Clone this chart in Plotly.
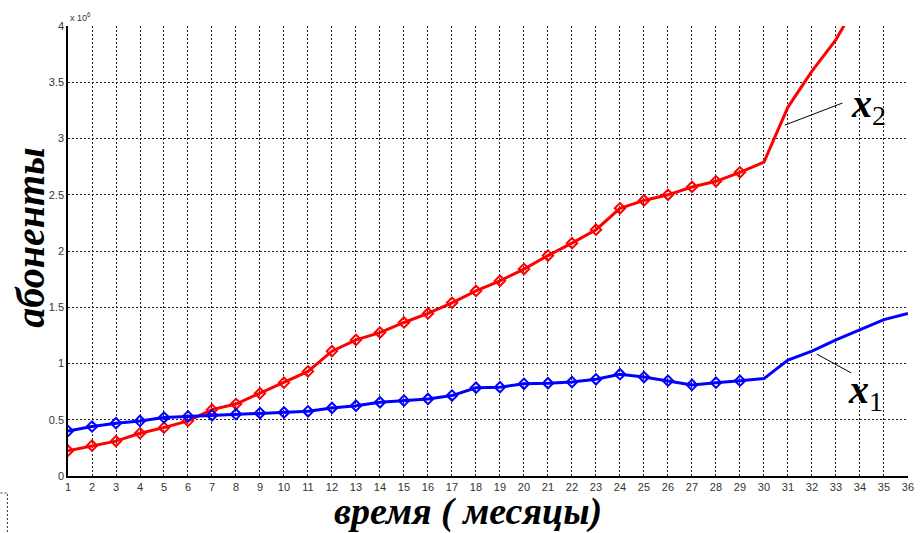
import plotly.graph_objects as go

# Months of observation
months = list(range(1, 37))

# Subscribers, in millions (axis carries the x 10^6 multiplier)
x1_subs = [0.40, 0.44, 0.47, 0.49, 0.52, 0.53, 0.54, 0.55, 0.56, 0.565,
           0.575, 0.605, 0.625, 0.655, 0.67, 0.685, 0.715, 0.785, 0.79, 0.82,
           0.825, 0.835, 0.86, 0.905, 0.88, 0.847, 0.81, 0.83, 0.847, 0.866,
           1.03, 1.11, 1.21, 1.30, 1.39, 1.445]
x2_subs = [0.225, 0.27, 0.31, 0.38, 0.43, 0.49, 0.59, 0.64, 0.735, 0.83,
           0.93, 1.11, 1.21, 1.275, 1.365, 1.445, 1.54, 1.645, 1.735, 1.84,
           1.96, 2.07, 2.19, 2.38, 2.45, 2.50, 2.57, 2.62, 2.70, 2.79,
           3.28, 3.60, 3.88, 4.25]

# Months with observed (marked) points; later months are the projection
n_marked = 29

y_ticks = [0, 0.5, 1, 1.5, 2, 2.5, 3, 3.5, 4]
y_tick_text = ["0", "0.5", "1", "1.5", "2", "2.5", "3", "3.5", "4"]

RED = "#ff0000"
BLUE = "#0000ff"

fig = go.Figure()


def add_series(xs, ys, color):
    fig.add_trace(go.Scatter(
        x=xs[:n_marked], y=ys[:n_marked], mode="lines+markers",
        line=dict(color=color, width=3),
        marker=dict(symbol="diamond-open", size=8, color=color,
                    line=dict(color=color, width=2)),
        showlegend=False, hoverinfo="x+y"))
    fig.add_trace(go.Scatter(
        x=xs[n_marked - 1:len(ys)], y=ys[n_marked - 1:], mode="lines",
        line=dict(color=color, width=3),
        showlegend=False, hoverinfo="x+y"))


add_series(months, x2_subs, RED)
add_series(months, x1_subs, BLUE)

grid_style = dict(showgrid=True, gridcolor="#222222", gridwidth=1,
                  griddash="2px,2px", zeroline=False,
                  showline=True, linecolor="#000000", linewidth=1.5,
                  tickfont=dict(family="Liberation Sans, Arial", size=11,
                                color="#333333"),
                  ticks="", mirror=False, ticklabeloverflow="allow")

fig.update_xaxes(range=[1, 36.002], tickmode="array", tickvals=months,
                 ticktext=[str(m) for m in months], **grid_style)
fig.update_yaxes(range=[0, 4.001], tickmode="array", tickvals=y_ticks,
                 ticktext=y_tick_text, **grid_style)

serif = "Liberation Serif, Times New Roman, serif"

annotations = [
    # axis multiplier
    dict(xref="paper", yref="paper", x=0.0, y=1.0, xanchor="left",
         yanchor="bottom", text="x 10<sup>6</sup>", showarrow=False,
         font=dict(family="Liberation Sans, Arial", size=9, color="#333333"),
         yshift=1),
    # axis titles
    dict(xref="paper", yref="paper", x=0.476, y=-0.079, xanchor="center",
         yanchor="middle", text="<b><i>время ( месяцы)</i></b>",
         showarrow=False, borderpad=0,
         font=dict(family=serif, size=38, color="#000000")),
    dict(xref="paper", yref="paper", x=-0.045, y=0.53, xanchor="center",
         yanchor="middle", text="<b><i>абоненты</i></b>", textangle=-90,
         showarrow=False, font=dict(family=serif, size=40, color="#000000")),
    # series labels
    dict(x=33.55, y=3.29, xanchor="left", yanchor="middle",
         text="<b><i>x</i></b><sub>2</sub>", showarrow=False,
         font=dict(family=serif, size=40, color="#000000")),
    dict(x=33.4, y=0.75, xanchor="left", yanchor="middle",
         text="<b><i>x</i></b><sub>1</sub>", showarrow=False,
         font=dict(family=serif, size=40, color="#000000")),
]

shapes = [
    # leader lines to the series labels
    dict(type="line", x0=30.87, y0=3.12, x1=33.27, y1=3.316,
         line=dict(color="#000000", width=1)),
    dict(type="line", x0=32.2, y0=1.084, x1=33.64, y1=0.916,
         line=dict(color="#000000", width=1)),
    # dotted frame corner in the lower-left margin
    dict(type="path", xref="paper", yref="paper",
         path="M -0.0804,-0.0378 L -0.0721,-0.0378 L -0.0721,-0.1300",
         line=dict(color="#333333", width=1, dash="2px,2px")),
]

fig.update_layout(
    width=920, height=533,
    margin=dict(l=68, r=6, t=26, b=57),
    plot_bgcolor="#ffffff", paper_bgcolor="#ffffff",
    annotations=annotations, shapes=shapes,
)

fig.write_html("out.html")
